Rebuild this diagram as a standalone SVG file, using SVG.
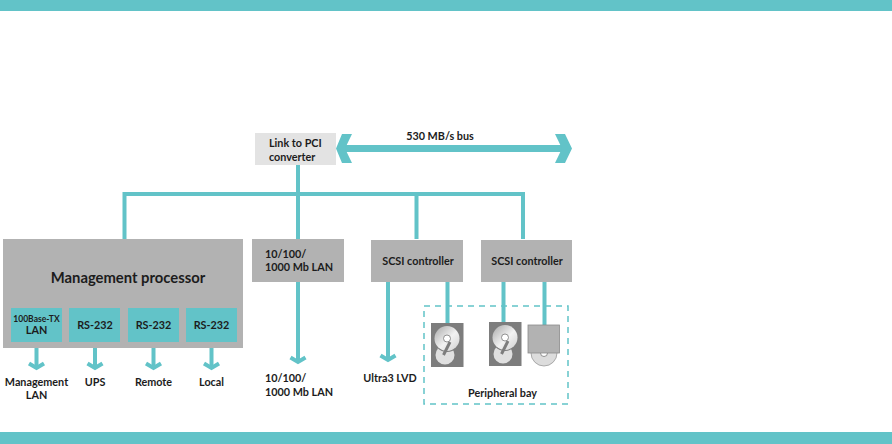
<svg xmlns="http://www.w3.org/2000/svg" width="892" height="444" viewBox="0 0 892 444">
<style>
text{font-family:"Lato","Liberation Sans",sans-serif;font-weight:700;font-size:10.800px;fill:#1c1c1c;text-anchor:middle}
.start{text-anchor:start}
.bar{fill:#62c3c8}
.gray{fill:#b2b2b2}
.sub{fill:#62c3c8}
.wire{fill:none;stroke:#62c3c8;stroke-width:4}
.bus{fill:none;stroke:#62c3c8;stroke-width:7}
.drive{fill:#7d7d7d}
.disc{fill:url(#discfill)}
.hole{fill:#fff;stroke:#777;stroke-width:.8}
</style>
<defs>
<linearGradient id="discfill" x1="0" y1="0" x2="1" y2="1"><stop offset="0" stop-color="#a8a8a8"/><stop offset=".55" stop-color="#f2f2f2"/><stop offset="1" stop-color="#cfcfcf"/></linearGradient>
<g id="hd">
<rect x="0" y="0" width="32.500" height="44" class="drive"/>
<circle cx="14" cy="32" r="9.500" fill="#e0e0e0"/>
<circle cx="16" cy="15.500" r="13.500" fill="#7d7d7d"/>
<circle cx="16" cy="15.500" r="12.500" class="disc"/>
<path d="M19 19L12.500 32" stroke="#7d7d7d" stroke-width="3" fill="none"/>
<circle cx="16" cy="15.500" r="3.500" class="hole"/>
</g>
</defs>
<rect class="bar" x="0" y="0" width="892" height="11"/>
<rect class="bar" x="0" y="432" width="892" height="12"/>
<g id="connectors">
<path class="wire" d="M124.500 239V194H523V239M298 165V239M416.500 194V239M298 282V362M388 282V360M447.500 282V323M503.500 282V322M544.500 282V325M36.500 342V369M95 342V369M153.500 342V369M211.500 342V369"/>
<path class="bus" d="M342 148.500H564"/>
<path fill="#62c3c8" d="M342 134H352L345 148.500L352 163H342L336 148.500ZM555 134H565L572 148.500L565 163H555L562 148.500Z"/>
<path class="wire" d="M29 363.500L36.500 368L44 363.500M87.500 363.500L95 368L102.500 363.500M146 363.500L153.500 368L161 363.500M204 363.500L211.500 368L219 363.500"/>
<path class="wire" d="M290.500 357.500L298 362L305.500 357.500M380.500 355.500L388 360L395.500 355.500"/>
</g>
<g id="link-converter"><rect x="255" y="133" width="81" height="32" fill="#e3e3e3"/><text class="start" x="269" y="147">Link to PCI</text><text class="start" x="269" y="161">converter</text></g>
<text x="440" y="140">530 MB/s bus</text>
<g id="management-processor"><rect class="gray" x="3" y="239" width="240" height="109"/><text x="128" y="283" style="font-size:14.800px">Management processor</text></g>
<g id="port-lan"><rect class="sub" x="11" y="308" width="51" height="34"/><text x="36.500" y="322" style="font-size:8.500px">100Base-TX</text><text x="36.500" y="334">LAN</text></g>
<g id="port-ups"><rect class="sub" x="69" y="308" width="51" height="34"/><text x="95" y="329">RS-232</text></g>
<g id="port-remote"><rect class="sub" x="128" y="308" width="51" height="34"/><text x="153.500" y="329">RS-232</text></g>
<g id="port-local"><rect class="sub" x="186" y="308" width="51" height="34"/><text x="211.500" y="329">RS-232</text></g>
<g id="lan"><rect class="gray" x="252" y="239" width="92" height="43"/><text class="start" x="265" y="258">10/100/</text><text class="start" x="265" y="271">1000 Mb LAN</text></g>
<g id="scsi-1"><rect class="gray" x="371" y="240" width="92" height="42"/><text x="418" y="265">SCSI controller</text></g>
<g id="scsi-2"><rect class="gray" x="481" y="240" width="91" height="42"/><text x="527" y="265">SCSI controller</text></g>
<g id="peripheral-bay">
<rect x="424" y="306" width="144" height="98" fill="none" stroke="#62c3c8" stroke-width="1.500" stroke-dasharray="6 5"/>
<text x="502.500" y="397">Peripheral bay</text>
</g>
<g id="drive-1"><use href="#hd" x="431" y="323"/></g>
<g id="drive-2"><use href="#hd" x="489" y="322"/></g>
<g id="cd-drive">
<circle cx="544" cy="353" r="13" fill="#dcdcdc" stroke="#999" stroke-width=".8"/>
<circle cx="544" cy="353" r="3.500" class="hole"/>
<rect x="528" y="325" width="31.500" height="28" fill="#b2b2b2" stroke="#8a8a8a" stroke-width=".8"/>
</g>
<text x="36.500" y="386">Management</text><text x="36.500" y="399">LAN</text>
<text x="95" y="386">UPS</text>
<text x="153.500" y="386">Remote</text>
<text x="211.500" y="386">Local</text>
<text class="start" x="265" y="382">10/100/</text><text class="start" x="265" y="396">1000 Mb LAN</text>
<text x="390" y="382">Ultra3 LVD</text>
</svg>
